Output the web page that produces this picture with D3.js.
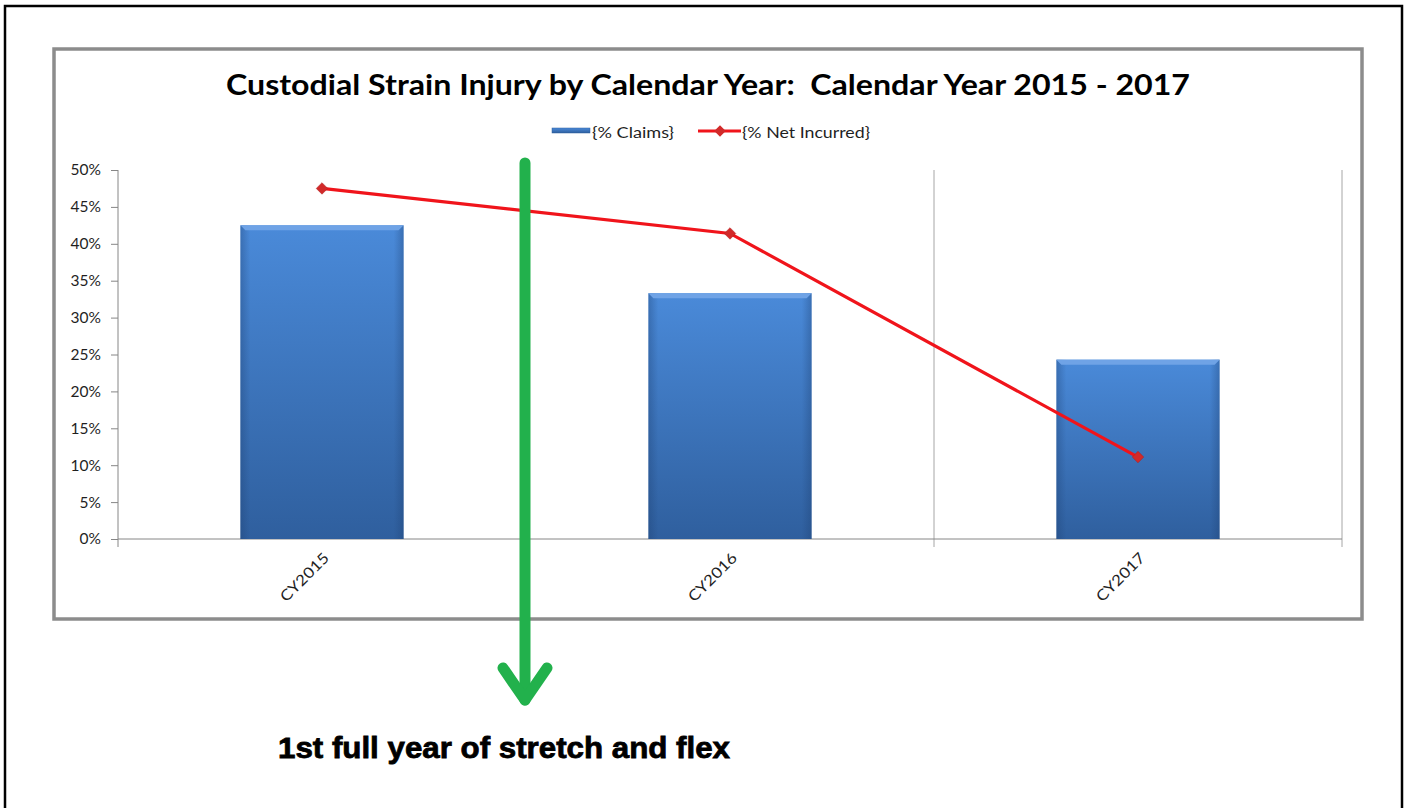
<!DOCTYPE html>
<html lang="en">
<head>
  <meta charset="UTF-8">
  <title>Custodial Strain Injury by Calendar Year</title>
  <script src="https://d3js.org/d3.v7.min.js"></script>
  <style>
    body { margin: 0; background: #fff; }
    svg { display: block; }
    .tick text { font-family: Lato, "Open Sans", sans-serif; fill: #1f1f1f; }
  </style>
</head>
<body>
  <svg id="chart" width="1408" height="808"></svg>

  <script>
    // Data
    const categories = ["CY2015", "CY2016", "CY2017"];
    const claims = [0.425, 0.333, 0.243];       // {% Claims}
    const netIncurred = [0.475, 0.414, 0.111];  // {% Net Incurred}
    const yTicks = [0, 0.05, 0.1, 0.15, 0.2, 0.25, 0.3, 0.35, 0.4, 0.45, 0.5];
    const seriesNames = ["{% Claims}", "{% Net Incurred}"];

    const svg = d3.select("#chart");

    // Outer black page border
    svg.append("rect")
      .attr("x", 5).attr("y", 6)
      .attr("width", 1397).attr("height", 820)
      .attr("fill", "none")
      .attr("stroke", "#000")
      .attr("stroke-width", 2.5);

    // Chart frame (gray)
    svg.append("rect")
      .attr("x", 54).attr("y", 49)
      .attr("width", 1308).attr("height", 570)
      .attr("fill", "#fff")
      .attr("stroke", "#8c8c8c")
      .attr("stroke-width", 3.5);

    // Gradients for the bars
    const defs = svg.append("defs");
    const vGrad = defs.append("linearGradient")
      .attr("id", "barV").attr("x1", 0).attr("y1", 0).attr("x2", 0).attr("y2", 1);
    vGrad.append("stop").attr("offset", "0%").attr("stop-color", "#4a8ad9");
    vGrad.append("stop").attr("offset", "100%").attr("stop-color", "#2f5f9e");
    const hGrad = defs.append("linearGradient")
      .attr("id", "barH").attr("x1", 0).attr("y1", 0).attr("x2", 1).attr("y2", 0);
    hGrad.append("stop").attr("offset", "0%").attr("stop-color", "#1d3f70").attr("stop-opacity", 0.35);
    hGrad.append("stop").attr("offset", "6%").attr("stop-color", "#1d3f70").attr("stop-opacity", 0);
    hGrad.append("stop").attr("offset", "94%").attr("stop-color", "#1d3f70").attr("stop-opacity", 0);
    hGrad.append("stop").attr("offset", "100%").attr("stop-color", "#1d3f70").attr("stop-opacity", 0.35);

    // Scales
    const x = d3.scaleBand()
      .domain(categories)
      .range([118, 1342])
      .paddingInner(0.6)
      .paddingOuter(0.3);

    const y = d3.scaleLinear()
      .domain([0, 0.5])
      .range([539, 170]);

    const step = x.step();

    // Vertical gridlines at category boundaries
    const bounds = d3.range(1, categories.length + 1).map(i => 118 + i * step);
    svg.append("g")
      .selectAll("line")
      .data(bounds)
      .join("line")
      .attr("x1", d => d).attr("x2", d => d)
      .attr("y1", y(0.5)).attr("y2", y(0) + 8)
      .attr("stroke", "#a6a6a6")
      .attr("stroke-width", 1);

    // Y axis
    const yAxis = svg.append("g")
      .attr("transform", "translate(118,0)")
      .call(d3.axisLeft(y).tickValues(yTicks).tickFormat(d3.format(".0%")).tickSize(7).tickPadding(10));
    yAxis.selectAll("path, line").attr("stroke", "#868686");
    yAxis.select(".domain").attr("d", `M0,${y(0.5)}V${y(0) + 8}`);
    yAxis.selectAll("text").attr("font-size", 15.5);

    // X axis
    const xAxis = svg.append("g")
      .attr("transform", `translate(0,${y(0)})`)
      .call(d3.axisBottom(x).tickSize(0).tickPadding(0));
    xAxis.select(".domain").attr("stroke", "#868686").attr("d", `M118,0H1342`);
    xAxis.selectAll("text")
      .attr("font-size", 15)
      .attr("text-anchor", "end")
      .attr("dy", 0)
      .attr("textLength", 62)
      .attr("lengthAdjust", "spacingAndGlyphs")
      .attr("transform", "translate(8,20) rotate(-45)");

    // Bars
    const bars = svg.append("g")
      .selectAll("g")
      .data(categories.map((c, i) => ({ c, v: claims[i] })))
      .join("g");
    bars.append("rect")
      .attr("x", d => x(d.c))
      .attr("y", d => y(d.v))
      .attr("width", x.bandwidth())
      .attr("height", d => y(0) - y(d.v))
      .attr("fill", "url(#barV)");
    bars.append("rect")
      .attr("x", d => x(d.c))
      .attr("y", d => y(d.v))
      .attr("width", x.bandwidth())
      .attr("height", d => y(0) - y(d.v))
      .attr("fill", "url(#barH)");
    // top bevel
    bars.append("path")
      .attr("d", d => {
        const x0 = x(d.c), x1 = x0 + x.bandwidth(), t = y(d.v);
        return `M${x0},${t}H${x1}L${x1 - 5},${t + 5}H${x0 + 5}Z`;
      })
      .attr("fill", "#6fa3e6");

    // Line series
    const linePts = categories.map((c, i) => [x(c) + x.bandwidth() / 2, y(netIncurred[i])]);
    svg.append("path")
      .datum(linePts)
      .attr("d", d3.line())
      .attr("fill", "none")
      .attr("stroke", "#f0141b")
      .attr("stroke-width", 3.2);
    svg.append("g")
      .selectAll("path")
      .data(linePts)
      .join("path")
      .attr("transform", d => `translate(${d[0]},${d[1]})`)
      .attr("d", d3.symbol(d3.symbolDiamond2, 85))
      .attr("fill", "#d12a2a")
      .attr("stroke", "#b01c1c")
      .attr("stroke-width", 0.5);

    // Title
    svg.append("text")
      .attr("x", 226).attr("y", 95)
      .attr("textLength", 964)
      .attr("lengthAdjust", "spacingAndGlyphs")
      .attr("font-family", "Lato, 'Open Sans', sans-serif")
      .attr("font-weight", "bold")
      .attr("font-size", 28)
      .attr("fill", "#000")
      .text("Custodial Strain Injury by Calendar Year:\u00a0 Calendar Year 2015 - 2017");

    // Legend
    const legend = svg.append("g")
      .attr("font-family", "Lato, 'Open Sans', sans-serif")
      .attr("font-size", 15.5)
      .attr("fill", "#1f1f1f");
    legend.append("rect")
      .attr("x", 552).attr("y", 128).attr("width", 38).attr("height", 5)
      .attr("fill", "url(#barV)").attr("stroke", "#2f5f9e").attr("stroke-width", 0.5);
    legend.append("text").attr("x", 592).attr("y", 138)
      .attr("textLength", 82).attr("lengthAdjust", "spacingAndGlyphs")
      .text(seriesNames[0]);
    legend.append("line")
      .attr("x1", 698).attr("x2", 741).attr("y1", 131).attr("y2", 131)
      .attr("stroke", "#f0141b").attr("stroke-width", 3.2);
    legend.append("path")
      .attr("transform", "translate(720,131)")
      .attr("d", d3.symbol(d3.symbolDiamond2, 85))
      .attr("fill", "#d12a2a");
    legend.append("text").attr("x", 742).attr("y", 138)
      .attr("textLength", 128).attr("lengthAdjust", "spacingAndGlyphs")
      .text(seriesNames[1]);

    // Green arrow annotation
    const arrow = svg.append("g")
      .attr("fill", "none")
      .attr("stroke", "#22b14c")
      .attr("stroke-width", 11)
      .attr("stroke-linecap", "round")
      .attr("stroke-linejoin", "round");
    arrow.append("line")
      .attr("x1", 525).attr("y1", 163).attr("x2", 525).attr("y2", 700);
    arrow.append("path")
      .attr("d", "M503,668L525,700L547,668");

    svg.append("text")
      .attr("x", 278).attr("y", 758)
      .attr("textLength", 452)
      .attr("lengthAdjust", "spacingAndGlyphs")
      .attr("font-family", "'Liberation Sans', Arial, sans-serif")
      .attr("font-weight", "bold")
      .attr("font-size", 30)
      .attr("stroke", "#000")
      .attr("stroke-width", 0.8)
      .attr("fill", "#000")
      .text("1st full year of stretch and flex");
  </script>
</body>
</html>
